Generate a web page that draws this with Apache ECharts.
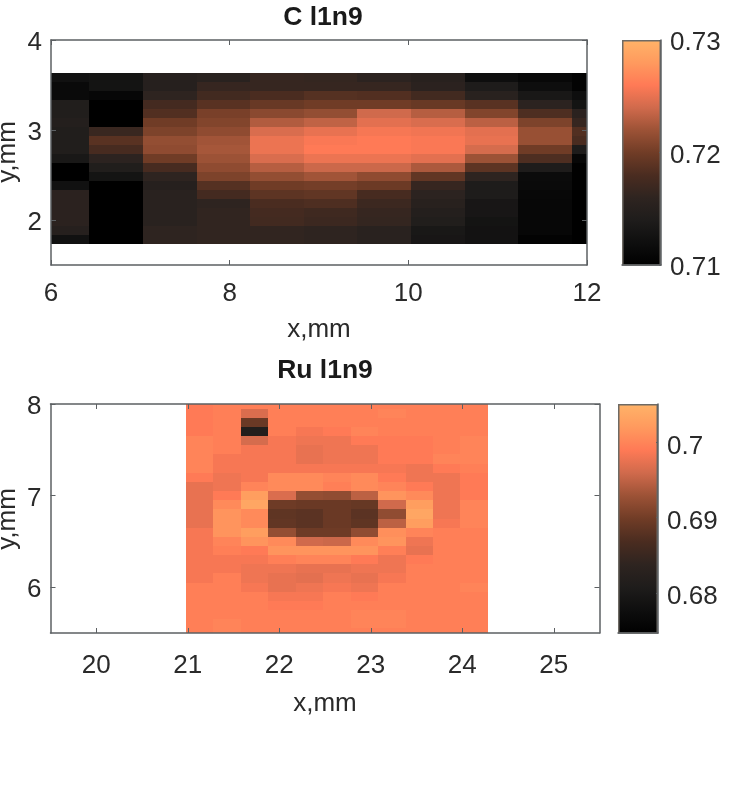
<!DOCTYPE html>
<html><head><meta charset="utf-8">
<script src="https://cdn.jsdelivr.net/npm/echarts@6/dist/echarts.min.js"></script>
<style>html,body{margin:0;padding:0;background:#fff}#c{width:734px;height:789px}</style>
</head><body><div id="c"></div>
<script>
const colormap = ['#000000','#0e0e0e','#1e1c1b','#2e2420','#4a2c20','#703c26','#9c5236','#d06a4c','#ff7a56','#ff9a5e','#ffb368'];

const cTitle = 'C l1n9', ruTitle = 'Ru l1n9', xName = 'x,mm', yName = 'y,mm';
const cXEdges = [5.83,6.43,7.03,7.63,8.23,8.83,9.43,10.03,10.63,11.23,11.83,12.43];
const cYEdges = [3.635,3.535,3.435,3.335,3.235,3.135,3.035,2.935,2.835,2.735,2.635,2.535,2.435,2.335,2.235,2.135,2.035,1.935,1.835,1.735];
const cColumns = [
 [.7124,.7114,.7114,.7144,.7144,.7148,.7144,.7144,.7144,.7134,.71,.71,.7124,.7156,.7156,.7156,.7156,.715,.7124],
 [.7128,.7128,.711,.71,.71,.71,.7168,.7188,.7178,.7158,.7144,.7128,.71,.71,.71,.71,.71,.71,.71],
 [.715,.715,.716,.7176,.7184,.72,.7206,.7216,.7214,.72,.7178,.716,.715,.7154,.7154,.7154,.7154,.716,.716],
 [.7154,.7166,.7174,.7188,.7204,.7208,.7214,.7222,.7224,.722,.7214,.7206,.7186,.7176,.716,.7162,.7162,.7162,.7162],
 [.7166,.7166,.718,.7196,.7212,.7228,.7244,.7252,.7252,.7244,.723,.7216,.72,.719,.718,.7176,.7174,.7162,.7162],
 [.7164,.7166,.7186,.72,.7216,.7234,.725,.7258,.726,.7252,.7238,.7222,.7202,.7192,.7182,.7172,.717,.716,.716],
 [.7158,.7166,.7184,.72,.724,.7248,.7256,.726,.726,.7252,.7238,.7214,.7198,.7178,.717,.7166,.7164,.7154,.7154],
 [.7152,.7156,.7174,.7196,.723,.7244,.7254,.7258,.7258,.7248,.7226,.7192,.7166,.7158,.7152,.7148,.7144,.7134,.7132],
 [.712,.714,.7154,.7188,.7208,.7232,.7248,.725,.7242,.722,.719,.716,.714,.714,.7132,.7132,.7128,.7126,.7126],
 [.7112,.712,.7134,.7158,.7182,.7206,.7218,.7218,.72,.7182,.714,.7116,.7114,.7112,.711,.711,.711,.711,.7104],
 [.7104,.7104,.712,.7128,.7156,.7166,.7184,.718,.714,.711,.7102,.7102,.7102,.71,.71,.71,.71,.71,.71]
];
const ruXEdges = [20.98,21.28,21.58,21.88,22.18,22.48,22.78,23.08,23.38,23.68,23.98,24.28];
const ruYEdges = [8,7.95,7.85,7.75,7.65,7.55,7.45,7.35,7.25,7.15,7.05,6.95,6.85,6.75,6.65,6.55,6.45,6.35,6.25,6.15,6.05,5.95,5.85,5.75,5.65,5.55,5.5];
const ruColumns = [
 [.699,.699,.699,.699,.7,.7,.7,.7,.699,.6975,.6975,.6975,.6975,.6975,.6985,.6985,.6985,.6985,.6985,.6985,.6995,.6995,.6995,.6995,.6995,.6995],
 [.6995,.6995,.6995,.6995,.6995,.6995,.6985,.6985,.698,.698,.699,.7005,.7015,.7015,.7015,.7,.6995,.6985,.6985,.6995,.6995,.6995,.6995,.6995,.7,.7],
 [.6995,.6966,.6894,.6816,.6963,.6985,.6985,.6985,.6985,.7,.7025,.7035,.7005,.7005,.7025,.7015,.699,.6985,.698,.698,.6985,.6995,.6995,.6995,.6995,.6995],
 [.6995,.6995,.6995,.6995,.6985,.6985,.6985,.6985,.7005,.7005,.6966,.6897,.6885,.6888,.6924,.7005,.7015,.6995,.698,.6975,.6975,.6985,.699,.6995,.6995,.6995],
 [.6995,.6995,.6995,.6985,.698,.6975,.6975,.6985,.7005,.7005,.6924,.6894,.6882,.6882,.6897,.696,.7015,.7,.6975,.6972,.698,.6985,.699,.6995,.6995,.6995],
 [.6995,.6995,.6995,.699,.698,.698,.698,.6985,.7,.6995,.6921,.6894,.6894,.6894,.6897,.6957,.7015,.7,.6975,.698,.6985,.6995,.6995,.6995,.6995,.6995],
 [.6995,.6995,.6995,.7,.699,.698,.698,.6985,.7005,.7005,.6948,.6891,.6882,.6885,.6921,.7005,.7015,.699,.698,.6975,.698,.699,.6995,.7,.7,.6995],
 [.6995,.7,.6995,.6995,.699,.699,.699,.6985,.699,.7,.7015,.696,.6921,.6948,.701,.7015,.6995,.698,.698,.6985,.6995,.6995,.6995,.7,.7,.6995],
 [.6995,.6995,.6995,.6995,.699,.699,.699,.698,.698,.699,.7005,.7025,.7035,.7025,.7,.698,.6975,.699,.6995,.6995,.6995,.6995,.6995,.6995,.6995,.6995],
 [.6995,.6995,.6995,.6995,.6995,.6995,.7,.699,.698,.698,.698,.698,.698,.6985,.6995,.6995,.6995,.6995,.6995,.6995,.6995,.6995,.6995,.6995,.6995,.6995],
 [.6995,.6995,.6995,.6995,.7,.7,.7,.6995,.699,.699,.699,.7,.7,.7,.6995,.6995,.6995,.6995,.6995,.6995,.7,.6995,.6995,.6995,.6995,.6995]
];
const cRange = [0.71, 0.73], ruRange = [0.6747, 0.7051];
const cXTicks = [6,8,10,12], cYTicks = [2,3,4], cBarTicks = [0.71,0.72,0.73];
const ruXTicks = [20,21,22,23,24,25], ruYTicks = [6,7,8], ruBarTicks = [0.68,0.69,0.7];

const FONT = '"Liberation Sans", Arial, sans-serif', TEXT = '#2a2a2a', LINE = '#5c6063', SIZE = 26;
function cells(xE, yE, cols) {
  const out = [];
  cols.forEach((col, i) => col.forEach((v, j) => out.push([xE[i], xE[i+1], yE[j+1], yE[j], v])));
  return out;
}
const grids = [
  {left:51, top:40, width:536, height:225},
  {left:622, top:40, width:39, height:225},
  {left:50.5, top:404, width:549, height:229},
  {left:618, top:404, width:40, height:229}
].map(g => Object.assign(g, {outerBoundsMode:'none', containLabel:false}));
const labelStyle = {fontFamily:FONT, fontSize:SIZE, color:TEXT};
function shifted(pad) {
  return {formatter:v=>`{a|${+(+v).toFixed(2)}}`, rich:{a:{...labelStyle, padding:[pad,0,0,0]}}};
}
function xAxes(g, min, max, ticks, name, nameGap, margin) {
  const base = {type:'value', gridIndex:g, min, max, z:5, splitLine:{show:false},
    axisLine:{show:true, onZero:false, lineStyle:{color:LINE, width:1.5}}};
  return [
    Object.assign({}, base, {position:'bottom', name, nameLocation:'middle', nameGap, nameMoveOverlap:false,
      nameTextStyle:labelStyle,
      axisTick:{show:true, inside:true, length:5, customValues:ticks, lineStyle:{color:LINE}},
      axisLabel:{show:true, customValues:ticks, margin, hideOverlap:false, showMinLabel:true, showMaxLabel:true, ...labelStyle}}),
    Object.assign({}, base, {position:'top',
      axisTick:{show:true, inside:true, length:5, customValues:ticks, lineStyle:{color:LINE}},
      axisLabel:{show:false}})
  ];
}
function yAxes(g, min, max, ticks) {
  const base = {type:'value', gridIndex:g, min, max, z:5, splitLine:{show:false},
    axisLine:{show:true, onZero:false, lineStyle:{color:LINE, width:1.5}}};
  return [
    Object.assign({}, base, {position:'left',
      axisTick:{show:true, inside:true, length:5, customValues:ticks, lineStyle:{color:LINE}},
      axisLabel:{show:true, customValues:ticks, margin:9, hideOverlap:false, showMinLabel:true, showMaxLabel:true, ...labelStyle, ...shifted(6)}}),
    Object.assign({}, base, {position:'right',
      axisTick:{show:true, inside:true, length:5, customValues:ticks, lineStyle:{color:LINE}},
      axisLabel:{show:false}})
  ];
}
function barAxes(g, range, ticks, pad) {
  return {
    x:{type:'category', gridIndex:g, data:[''], z:5, axisLine:{show:true, lineStyle:{color:LINE, width:1.5}}, axisTick:{show:false}, axisLabel:{show:false}},
    y:{type:'value', gridIndex:g, min:range[0], max:range[1], position:'right', z:5, splitLine:{show:false},
      axisLine:{show:true, lineStyle:{color:LINE, width:1.5}},
      axisTick:{show:true, inside:true, length:2, customValues:ticks, lineStyle:{color:LINE}},
      axisLabel:{show:true, customValues:ticks, margin:9, hideOverlap:false, showMinLabel:true, showMaxLabel:true, ...labelStyle, ...shifted(pad)}}
  };
}
const renderCell = (params, api) => {
  const a = api.coord([api.value(0), api.value(3)]);
  const b = api.coord([api.value(1), api.value(2)]);
  const shape = echarts.graphic.clipRectByRect(
    {x:a[0], y:a[1], width:b[0]-a[0], height:b[1]-a[1]}, params.coordSys);
  if (!shape) return null;
  const x0 = Math.round(shape.x), y0 = Math.round(shape.y);
  const x1 = Math.round(shape.x + shape.width), y1 = Math.round(shape.y + shape.height);
  return {type:'rect', shape:{x:x0, y:y0, width:x1-x0, height:y1-y0}, style:{fill:api.visual('color')}};
};
const gradient = {type:'linear', x:0, y:0, x2:0, y2:1,
  colorStops: colormap.map((c,i)=>({offset:1-i/(colormap.length-1), color:c})).reverse()};
const barStyle = {color:gradient, borderColor:'#6e6a64', borderWidth:1.5};
const yNameText = cy => ({type:'text', x:21, y:cy, rotation:Math.PI/2, silent:true,
  style:{text:yName, font:`${SIZE}px ${FONT}`, fill:TEXT, align:'center', verticalAlign:'bottom'}});

const bar1 = barAxes(1, cRange, cBarTicks, 6), bar2 = barAxes(3, ruRange, ruBarTicks, 8);
const xs1 = xAxes(0, 6, 12, cXTicks, xName, 52, 16), ys1 = yAxes(0, 1.5, 4, cYTicks);
const xs2 = xAxes(2, 19.5, 25.5, ruXTicks, xName, 58, 20), ys2 = yAxes(2, 5.5, 8, ruYTicks);
const option = {
  animation:false,
  backgroundColor:'#fff',
  title:[
    {text:cTitle, left:318, top:-0.5, textAlign:'center', textStyle:{fontFamily:FONT, fontWeight:'bold', fontSize:26.5, color:'#1a1a1a'}},
    {text:ruTitle, left:320, top:352, textAlign:'center', textStyle:{fontFamily:FONT, fontWeight:'bold', fontSize:26.5, color:'#1a1a1a'}}
  ],
  graphic:[yNameText(152), yNameText(519)],
  grid:grids,
  xAxis:[...xs1, bar1.x, ...xs2, bar2.x],
  yAxis:[...ys1, bar1.y, ...ys2, bar2.y],
  visualMap:[
    {show:false, type:'continuous', seriesIndex:0, dimension:4, min:cRange[0], max:cRange[1], inRange:{color:colormap}},
    {show:false, type:'continuous', seriesIndex:1, dimension:4, min:ruRange[0], max:ruRange[1], inRange:{color:colormap}}
  ],
  series:[
    {type:'custom', xAxisIndex:0, yAxisIndex:0, renderItem:renderCell, data:cells(cXEdges,cYEdges,cColumns), encode:{x:[0,1], y:[2,3]}, silent:true},
    {type:'custom', xAxisIndex:3, yAxisIndex:3, renderItem:renderCell, data:cells(ruXEdges,ruYEdges,ruColumns), encode:{x:[0,1], y:[2,3]}, silent:true},
    {type:'bar', xAxisIndex:2, yAxisIndex:2, barWidth:'100%', data:[cRange[1]], itemStyle:barStyle, silent:true},
    {type:'bar', xAxisIndex:5, yAxisIndex:5, barWidth:'100%', data:[ruRange[1]], itemStyle:barStyle, silent:true}
  ]
};
const chart = echarts.init(document.getElementById('c'), null, {renderer:'canvas'});
chart.setOption(option);
</script></body></html>
